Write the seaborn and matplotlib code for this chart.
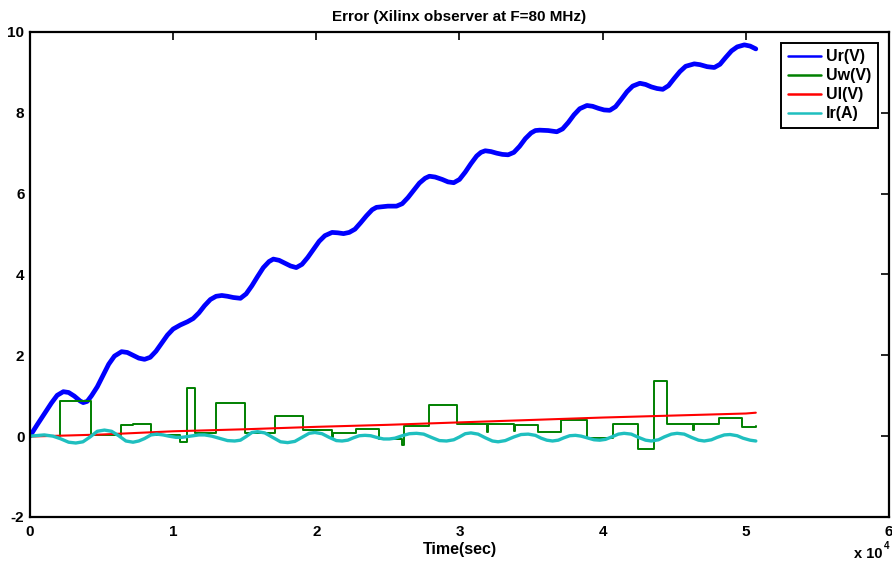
import matplotlib
matplotlib.use("Agg")
import matplotlib.pyplot as plt
import seaborn as sns

# tiempos en unidades de 10^4 s

# Ur(V): rampa con ondulacion
ur_t = [0.0, 0.05, 0.10, 0.15, 0.19, 0.233, 0.27, 0.31, 0.35, 0.372, 0.40, 0.43,
        0.47, 0.51, 0.55, 0.59, 0.64, 0.68, 0.72, 0.76, 0.80, 0.84, 0.88, 0.92,
        0.96, 1.00, 1.05, 1.10, 1.14, 1.18, 1.22, 1.26, 1.30, 1.34, 1.38, 1.42,
        1.47, 1.51, 1.55, 1.59, 1.63, 1.67, 1.70, 1.74, 1.78, 1.82, 1.86, 1.90,
        1.94, 1.98, 2.02, 2.06, 2.11, 2.15, 2.19, 2.23, 2.27, 2.31, 2.35, 2.39,
        2.42, 2.50, 2.56, 2.60, 2.64, 2.68, 2.72, 2.76, 2.79, 2.83, 2.88, 2.92,
        2.96, 3.00, 3.04, 3.08, 3.12, 3.15, 3.18, 3.22, 3.26, 3.30, 3.34, 3.38,
        3.42, 3.46, 3.50, 3.53, 3.56, 3.62, 3.68, 3.72, 3.76, 3.80, 3.84, 3.89,
        3.93, 3.97, 4.01, 4.05, 4.09, 4.13, 4.17, 4.21, 4.26, 4.30, 4.34, 4.38,
        4.42, 4.46, 4.50, 4.54, 4.58, 4.64, 4.68, 4.73, 4.78, 4.82, 4.86, 4.90,
        4.94, 4.99, 5.03, 5.07]
ur_v = [0.00, 0.28, 0.55, 0.82, 1.01, 1.10, 1.08, 0.99, 0.87, 0.83, 0.86, 1.00,
        1.22, 1.50, 1.78, 1.98, 2.09, 2.07, 2.00, 1.93, 1.90, 1.95, 2.10, 2.30,
        2.50, 2.65, 2.75, 2.83, 2.91, 3.05, 3.23, 3.38, 3.46, 3.48, 3.46, 3.43,
        3.41, 3.52, 3.72, 3.95, 4.17, 4.32, 4.38, 4.35, 4.28, 4.21, 4.17, 4.25,
        4.42, 4.62, 4.82, 4.96, 5.04, 5.03, 5.01, 5.04, 5.12, 5.28, 5.45, 5.60,
        5.66, 5.69, 5.69, 5.75, 5.90, 6.08, 6.26, 6.38, 6.43, 6.41, 6.35, 6.29,
        6.27, 6.35, 6.53, 6.74, 6.93, 7.02, 7.06, 7.04, 7.00, 6.97, 6.96, 7.02,
        7.17, 7.36, 7.50, 7.56, 7.57, 7.56, 7.53, 7.60, 7.76, 7.95, 8.10, 8.18,
        8.16, 8.11, 8.07, 8.06, 8.15, 8.33, 8.52, 8.66, 8.73, 8.70, 8.64, 8.60,
        8.58, 8.67, 8.85, 9.02, 9.15, 9.21, 9.19, 9.14, 9.12, 9.20, 9.37, 9.53,
        9.63, 9.68, 9.65, 9.58]

# Uw(V): escalones
uw_t = [0.0, 0.207, 0.424, 0.633, 0.72, 0.847, 1.045, 1.098, 1.15, 1.30, 1.50,
        1.71, 1.91, 2.107, 2.117, 2.28, 2.44, 2.60, 2.61, 2.79, 2.98, 3.19,
        3.198, 3.38, 3.388, 3.55, 3.71, 3.89, 4.07, 4.25, 4.36, 4.45, 4.63,
        4.638, 4.81, 4.97, 5.07]
uw_v = [0.0, 0.87, 0.02, 0.27, 0.31, 0.04, -0.14, 1.18, 0.07, 0.81, 0.07,
        0.50, 0.16, -0.02, 0.07, 0.17, -0.07, -0.22, 0.26, 0.78, 0.29, 0.10,
        0.29, 0.12, 0.27, 0.11, 0.40, -0.04, 0.29, -0.32, 1.37, 0.31, 0.15,
        0.30, 0.44, 0.23, 0.26]

# Ul(V): casi lineal
ul_t = [0.0, 0.5, 1.0, 1.5, 2.0, 2.5, 3.0, 3.5, 4.0, 4.5, 5.0, 5.07]
ul_v = [-0.01, 0.04, 0.12, 0.17, 0.23, 0.28, 0.34, 0.40, 0.46, 0.51, 0.56, 0.58]

# Ir(A): oscilacion pequena
ir_t = [0.0, 0.10, 0.16, 0.21, 0.27, 0.32, 0.37, 0.42, 0.47, 0.52, 0.57, 0.62,
        0.67, 0.72, 0.76, 0.80, 0.845, 0.885, 0.93, 0.97, 1.02, 1.06, 1.10, 1.14,
        1.18, 1.22, 1.27, 1.33, 1.38, 1.43, 1.47, 1.51, 1.55, 1.59, 1.64, 1.70,
        1.75, 1.80, 1.85, 1.90, 1.95, 1.99, 2.04, 2.09, 2.14, 2.18, 2.22, 2.26,
        2.30, 2.34, 2.38, 2.43, 2.47, 2.51, 2.55, 2.60, 2.65, 2.70, 2.75, 2.81,
        2.86, 2.91, 2.96, 3.00, 3.04, 3.08, 3.13, 3.18, 3.23, 3.27, 3.32, 3.38,
        3.43, 3.48, 3.53, 3.57, 3.61, 3.65, 3.69, 3.73, 3.77, 3.81, 3.85, 3.90,
        3.94, 3.98, 4.02, 4.07, 4.11, 4.15, 4.20, 4.25, 4.30, 4.34, 4.39, 4.43,
        4.48, 4.52, 4.57, 4.62, 4.67, 4.71, 4.76, 4.80, 4.85, 4.89, 4.94, 4.98,
        5.03, 5.07]
ir_v = [0.00, 0.03, 0.00, -0.06, -0.15, -0.17, -0.14, -0.02, 0.12, 0.15, 0.12, 0.01,
        -0.12, -0.15, -0.12, -0.06, 0.03, 0.05, 0.03, 0.00, -0.03, -0.03, -0.01, 0.01,
        0.03, 0.03, 0.00, -0.06, -0.11, -0.12, -0.10, -0.01, 0.09, 0.11, 0.08, -0.04,
        -0.14, -0.16, -0.13, -0.03, 0.07, 0.09, 0.06, -0.03, -0.11, -0.12, -0.10, -0.04,
        0.01, 0.02, 0.01, -0.04, -0.07, -0.07, -0.05, 0.01, 0.06, 0.07, 0.05, -0.04,
        -0.11, -0.12, -0.09, -0.02, 0.06, 0.08, 0.05, -0.04, -0.12, -0.14, -0.11, -0.02,
        0.04, 0.05, 0.02, -0.05, -0.10, -0.12, -0.10, -0.04, 0.01, 0.02, 0.00, -0.05,
        -0.09, -0.10, -0.08, -0.01, 0.05, 0.07, 0.05, -0.03, -0.10, -0.12, -0.09, -0.02,
        0.05, 0.07, 0.05, -0.03, -0.10, -0.12, -0.09, -0.03, 0.03, 0.04, 0.01, -0.05,
        -0.10, -0.12]

x_ticks = [0, 1, 2, 3, 4, 5, 6]
y_ticks = [-2, 0, 2, 4, 6, 8, 10]

sns.set_style("white")
plt.rcParams["font.family"] = ["Liberation Sans", "DejaVu Sans"]
plt.rcParams["font.weight"] = "bold"
plt.rcParams["text.color"] = "black"
plt.rcParams["axes.labelcolor"] = "black"
plt.rcParams["axes.titlecolor"] = "black"

fig = plt.figure(figsize=(8.92, 5.66), dpi=100)
ax = fig.add_axes([0.0336, 0.0866, 0.963, 0.857])

sns.lineplot(x=ur_t, y=ur_v, ax=ax, color="#0000FF", linewidth=3.4,
             estimator=None, sort=False, label="Ur(V)",
             solid_joinstyle="round", solid_capstyle="round")
sns.lineplot(x=uw_t, y=uw_v, ax=ax, color="#008000", linewidth=1.4,
             estimator=None, sort=False, drawstyle="steps-post", label="Uw(V)")
sns.lineplot(x=ul_t, y=ul_v, ax=ax, color="#FF0000", linewidth=1.5,
             estimator=None, sort=False, label="Ul(V)")
sns.lineplot(x=ir_t, y=ir_v, ax=ax, color="#1FBFBF", linewidth=2.4,
             estimator=None, sort=False, label="Ir(A)",
             solid_joinstyle="round")

ax.set_xlim(0, 6)
ax.set_ylim(-2, 10)
ax.set_xticks(x_ticks)
ax.set_xticklabels([str(v) for v in x_ticks])
ax.set_yticks(y_ticks)
ax.set_yticklabels([str(v) for v in y_ticks])

for s in ax.spines.values():
    s.set_color("black")
    s.set_linewidth(1.6)
    s.set_visible(True)

ax.tick_params(direction="in", length=6, width=1.2, top=True, right=True,
               labelsize=11, colors="black")
ax.tick_params(axis="x", pad=6)
ax.tick_params(axis="y", pad=4)

ax.set_title("Error (Xilinx observer at F=80 MHz)", fontsize=11,
             fontweight="bold", pad=8)
ax.set_xlabel("Time(sec)", fontsize=11.5, fontweight="bold", labelpad=2)
ax.set_ylabel("")

fig.text(0.989, 0.021, "x 10", ha="right", va="center", fontsize=10.5,
         fontweight="bold")
fig.text(0.991, 0.036, "4", ha="left", va="center", fontsize=7,
         fontweight="bold")

leg = ax.legend(loc="upper right", fontsize=11.5, frameon=True, fancybox=False,
                handlelength=2.1, handletextpad=0.3, labelspacing=0.25,
                borderaxespad=0.7, borderpad=0.4)
leg.get_frame().set_edgecolor("black")
leg.get_frame().set_linewidth(1.4)
leg.get_frame().set_alpha(1)
for ln in leg.get_lines():
    ln.set_linewidth(1.8)

fig.savefig("out.png", dpi=100)
